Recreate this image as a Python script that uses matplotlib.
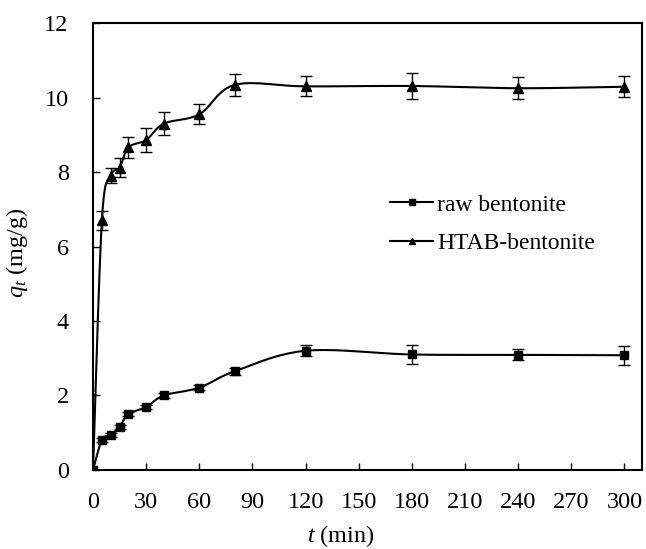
import numpy as np
import matplotlib
matplotlib.use("Agg")
import matplotlib.pyplot as plt
from matplotlib.lines import Line2D

plt.rcParams['font.family'] = ['Liberation Serif', 'DejaVu Serif']
plt.rcParams['mathtext.fontset'] = 'custom'
plt.rcParams['mathtext.rm'] = 'Liberation Serif'
plt.rcParams['mathtext.it'] = 'Liberation Serif:italic'

t = [0, 5, 10, 15, 20, 30, 40, 60, 80, 120, 180, 240, 300]
raw_q = [0, 0.80, 0.94, 1.16, 1.50, 1.69, 2.00, 2.21, 2.65, 3.20, 3.10, 3.09, 3.08]
raw_err = [0, 0.05, 0.05, 0.06, 0.06, 0.06, 0.07, 0.07, 0.10, 0.15, 0.25, 0.15, 0.25]
htab_q = [0, 6.70, 7.90, 8.12, 8.66, 8.86, 9.30, 9.55, 10.34, 10.30, 10.31, 10.25, 10.29]
htab_err = [0, 0.25, 0.20, 0.25, 0.28, 0.33, 0.30, 0.27, 0.30, 0.27, 0.35, 0.30, 0.28]
labels = ['raw bentonite', 'HTAB-bentonite']
xticks = list(range(0, 301, 30))
yticks = list(range(0, 13, 2))


def smooth(x, y, n=30):
    x = np.asarray(x, float)
    y = np.asarray(y, float)
    px = np.concatenate([[x[0]], x, [x[-1]]])
    py = np.concatenate([[y[0]], y, [y[-1]]])
    xs, ys = [], []
    s = np.linspace(0, 1, n)
    for i in range(1, len(px) - 2):
        p0, p1, p2, p3 = (np.array([px[j], py[j]]) for j in (i - 1, i, i + 1, i + 2))
        c1 = p1 + (p2 - p0) / 6.0
        c2 = p2 - (p3 - p1) / 6.0
        b = ((1 - s) ** 3)[:, None] * p1 + (3 * (1 - s) ** 2 * s)[:, None] * c1 \
            + (3 * (1 - s) * s ** 2)[:, None] * c2 + (s ** 3)[:, None] * p2
        xs.append(b[:, 0])
        ys.append(b[:, 1])
    return np.concatenate(xs), np.concatenate(ys)


fig = plt.figure(figsize=(6.46, 5.49), dpi=100)
ax = fig.add_axes([0.144, 0.144, 0.850, 0.814])

# smooth in screen-like space (as spreadsheet smoothing does)
sx, sy = 1.77, 37.37
for q, err, m, ms in [(raw_q, raw_err, 's', 6), (htab_q, htab_err, '^', 7)]:
    xs, ys = smooth(np.array(t) * sx, np.array(q) * sy)
    ax.plot(xs / sx, ys / sy, color='black', lw=1.5, zorder=2)
    ax.errorbar(t, q, yerr=err, fmt='none', ecolor='black', elinewidth=1.0,
                capsize=4.5, capthick=1.0, zorder=3)
    ax.plot(t, q, linestyle='none', marker=m, ms=ms, color='black', zorder=4)

handles = [Line2D([0], [0], color='black', lw=1.5, marker='s', ms=4),
           Line2D([0], [0], color='black', lw=1.5, marker='^', ms=4.5)]
ax.legend(handles, labels, loc='center left', bbox_to_anchor=(0.541, 0.55), frameon=False,
          fontsize=17, handlelength=1.82, handletextpad=0.17, labelspacing=0.72,
          borderaxespad=0, borderpad=0)

ax.set_xlim(0, 310)
ax.set_ylim(0, 12)
ax.set_xticks(xticks)
ax.set_yticks(yticks)
ax.tick_params(direction='in', length=5, width=1.0, labelsize=17.5, top=False, right=False)
ax.tick_params(axis='x', pad=16)
ax.tick_params(axis='y', pad=17.5)
for sp in ax.spines.values():
    sp.set_linewidth(1.5)
ax.set_xlabel(r'$t$ (min)', fontsize=17.5, va='center')
ax.xaxis.set_label_coords(0.452, -0.147)
ax.set_ylabel(r'$q_t$ (mg/g)', fontsize=17.5, va='center')
ax.yaxis.set_label_coords(-0.138, 0.487)

fig.savefig('out.png', dpi=100)
